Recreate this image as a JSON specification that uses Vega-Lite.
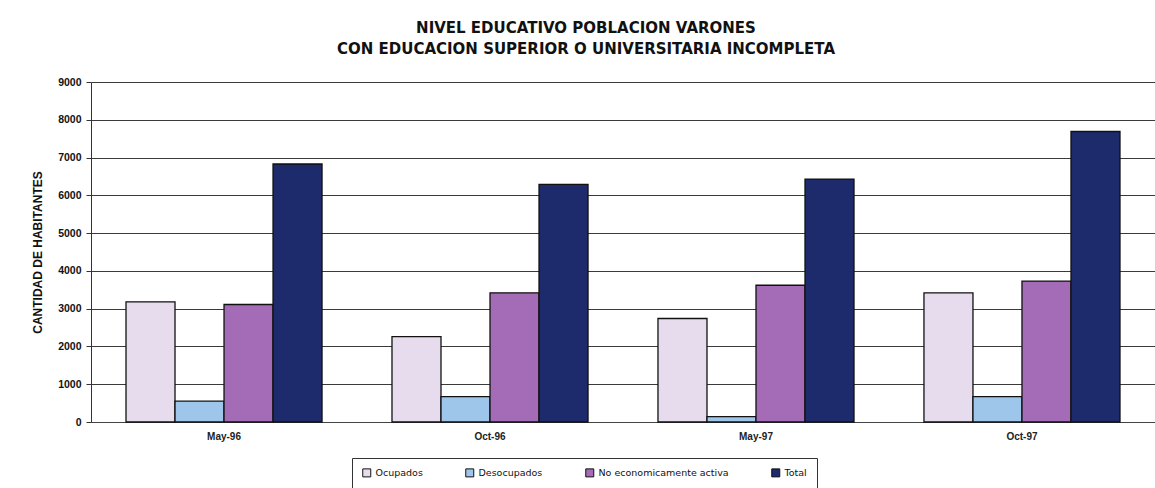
{
  "$schema": "https://vega.github.io/schema/vega-lite/v6.json",
  "width": 1064,
  "height": 340,
  "autosize": {"type": "none"},
  "padding": {"left": 91, "top": 82, "right": 0, "bottom": 66},
  "background": "#ffffff",
  "title": {
    "text": ["NIVEL EDUCATIVO POBLACION VARONES", "CON EDUCACION SUPERIOR O UNIVERSITARIA INCOMPLETA"],
    "font": "DejaVu Sans",
    "fontSize": 15,
    "fontWeight": "bold",
    "color": "#111111",
    "anchor": "middle",
    "lineHeight": 21,
    "offset": 20,
    "dx": -37
  },
  "data": {
    "values": [
      {"periodo": "May-96", "serie": "Ocupados", "valor": 3180},
      {"periodo": "May-96", "serie": "Desocupados", "valor": 550},
      {"periodo": "May-96", "serie": "No economicamente activa", "valor": 3110},
      {"periodo": "May-96", "serie": "Total", "valor": 6830},
      {"periodo": "Oct-96", "serie": "Ocupados", "valor": 2260},
      {"periodo": "Oct-96", "serie": "Desocupados", "valor": 670},
      {"periodo": "Oct-96", "serie": "No economicamente activa", "valor": 3420},
      {"periodo": "Oct-96", "serie": "Total", "valor": 6290},
      {"periodo": "May-97", "serie": "Ocupados", "valor": 2740},
      {"periodo": "May-97", "serie": "Desocupados", "valor": 140},
      {"periodo": "May-97", "serie": "No economicamente activa", "valor": 3620},
      {"periodo": "May-97", "serie": "Total", "valor": 6430},
      {"periodo": "Oct-97", "serie": "Ocupados", "valor": 3420},
      {"periodo": "Oct-97", "serie": "Desocupados", "valor": 670},
      {"periodo": "Oct-97", "serie": "No economicamente activa", "valor": 3730},
      {"periodo": "Oct-97", "serie": "Total", "valor": 7690}
    ]
  },
  "mark": {"type": "bar", "stroke": "#111111", "strokeWidth": 1.3},
  "encoding": {
    "x": {
      "field": "periodo",
      "type": "nominal",
      "sort": ["May-96", "Oct-96", "May-97", "Oct-97"],
      "scale": {"paddingInner": 0.263, "paddingOuter": 0.1316},
      "axis": {
        "title": null,
        "labelAngle": 0,
        "ticks": false,
        "labelFont": "Liberation Sans",
        "labelFontSize": 10,
        "labelFontWeight": "bold",
        "labelColor": "#222222",
        "labelPadding": 9,
        "domainColor": "#444444",
        "grid": false
      }
    },
    "xOffset": {
      "field": "serie",
      "type": "nominal",
      "sort": ["Ocupados", "Desocupados", "No economicamente activa", "Total"],
      "scale": {"paddingInner": 0, "paddingOuter": 0}
    },
    "y": {
      "field": "valor",
      "type": "quantitative",
      "scale": {"domain": [0, 9000], "nice": false},
      "axis": {
        "title": "CANTIDAD DE HABITANTES",
        "titleFont": "Liberation Sans",
        "titleFontSize": 12,
        "titleFontWeight": "bold",
        "titleColor": "#111111",
        "titlePadding": 13,
        "values": [0, 1000, 2000, 3000, 4000, 5000, 6000, 7000, 8000, 9000],
        "format": "d",
        "labelFont": "Liberation Sans",
        "labelFontSize": 10.5,
        "labelFontWeight": "bold",
        "labelColor": "#111111",
        "tickColor": "#333333",
        "tickSize": 5,
        "labelPadding": 5,
        "grid": true,
        "gridColor": "#3a3a3a",
        "gridWidth": 1.1,
        "domainColor": "#333333"
      }
    },
    "color": {
      "field": "serie",
      "type": "nominal",
      "sort": ["Ocupados", "Desocupados", "No economicamente activa", "Total"],
      "scale": {
        "domain": ["Ocupados", "Desocupados", "No economicamente activa", "Total"],
        "range": ["#e6dcee", "#9dc6ea", "#a46cb6", "#1d2a6c"]
      },
      "legend": {
        "title": null,
        "orient": "none",
        "legendX": 261,
        "legendY": 376,
        "direction": "horizontal",
        "columns": 4,
        "columnPadding": 40,
        "symbolType": "square",
        "symbolSize": 64,
        "symbolStrokeColor": "#111111",
        "symbolStrokeWidth": 1,
        "labelFont": "DejaVu Sans",
        "labelFontSize": 9.5,
        "labelColor": "#111111",
        "labelLimit": 300,
        "strokeColor": "#333333",
        "padding": 10
      }
    }
  },
  "config": {
    "view": {"stroke": null}
  }
}
